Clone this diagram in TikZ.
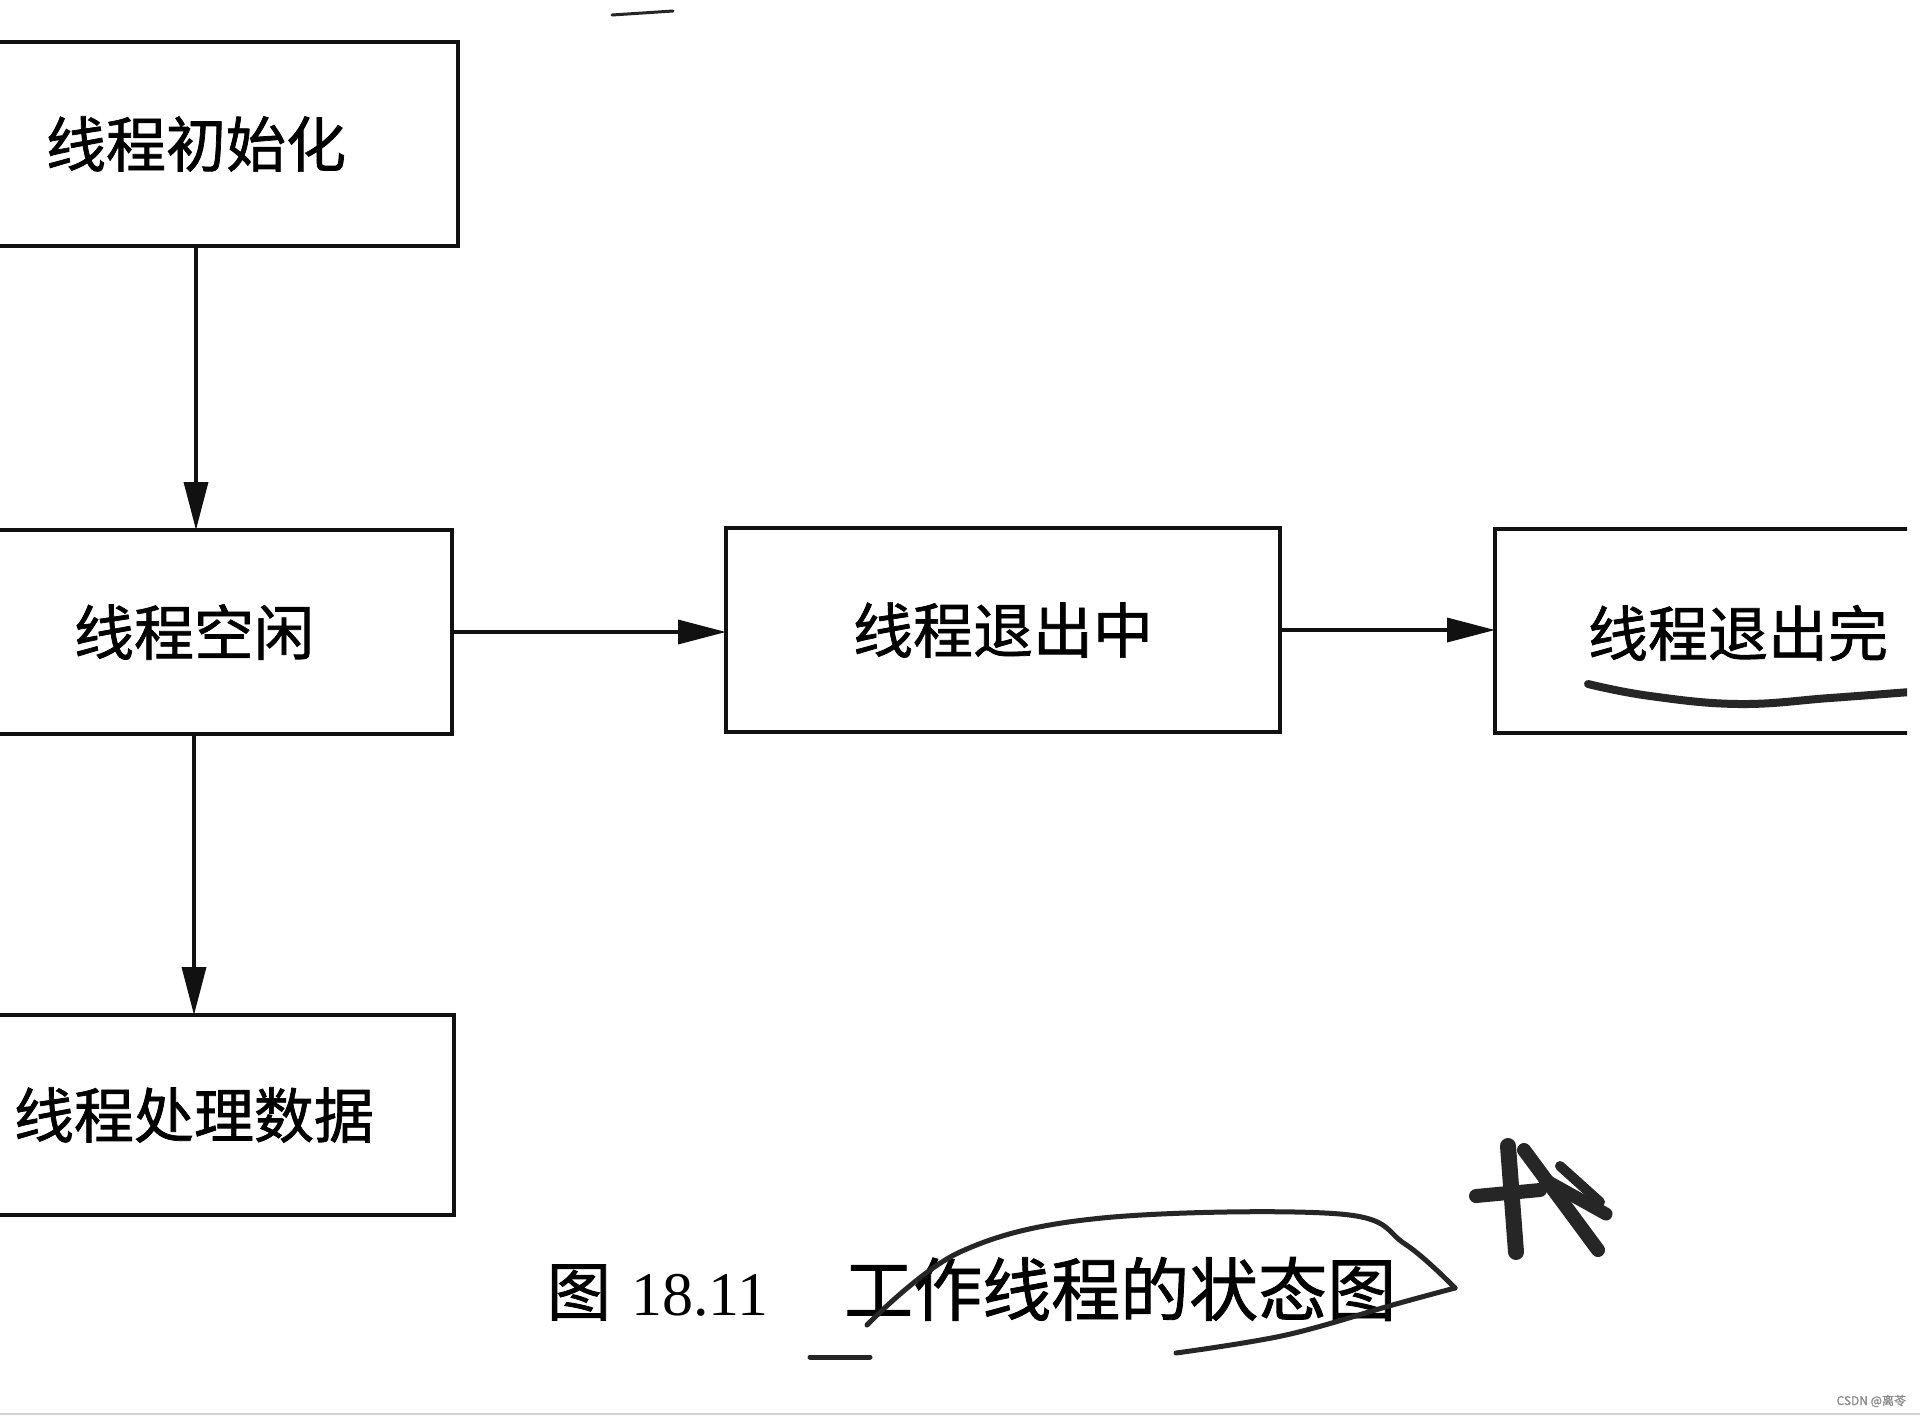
\documentclass[tikz,border=0pt]{standalone}
\usepackage{fontspec}
\usepackage{tikz}
\usetikzlibrary{arrows.meta, positioning, calc}
\newfontfamily\cjk{Noto Sans CJK SC}[FakeBold=1.2]
\newfontfamily\serifnum{Liberation Serif}
\definecolor{inkBlack}{HTML}{111111}
\definecolor{penGray}{HTML}{262626}
\definecolor{markGray}{HTML}{8C8C8C}
\definecolor{ruleGray}{HTML}{D4D4D4}

\begin{document}
\begin{tikzpicture}[
    x=1pt, y=-1pt,
    every node/.style={inner sep=0pt, outer sep=0pt},
    statebox/.style={
        draw=inkBlack, line width=4.5pt, minimum height=204pt,
        font=\fontsize{60}{64}\selectfont\cjk
    },
    flow/.style={draw=inkBlack, line width=3.5pt, -{Triangle[length=48pt, width=24pt]}},
    penmark/.style={draw=penGray, line width=5pt, line cap=round, line join=round}
]
    \useasboundingbox (0,0) rectangle (1920,1417);
    \fill[white] (0,0) rectangle (1920,1417);
    \clip (0,0) rectangle (1920,1417);

    % states
    \node[statebox, minimum width=524pt] (init) at (196,144) {线程初始化};
    \node[statebox, minimum width=516pt] (idle) at (194,632) {线程空闲};
    \node[statebox, minimum width=554pt] (exiting) at (1003,630) {线程退出中};
    \node[statebox, minimum width=520pt, minimum height=200pt] (work) at (194,1115) {线程处理数据};
    \begin{scope}
        \clip (0,0) rectangle (1907,1417);
        \node[statebox, minimum width=600pt, anchor=west] (exited) at (1495,631) {};
        \node[anchor=west, font=\fontsize{60}{64}\selectfont\cjk] (exitedtext) at (1588,633) {线程退出完};
        \draw[penmark, line width=8pt] plot[smooth, tension=0.7] coordinates {(1588,684) (1650,696) (1739,704) (1830,698) (1910,692)};
    \end{scope}

    % transitions
    \draw[flow] (init.south) -- (init.south |- idle.north);
    \draw[flow] (idle.south) -- (idle.south |- work.north);
    \draw[flow] (idle.east) -- (idle.east -| exiting.west);
    \draw[flow] (exiting.east) -- (exiting.east -| exited.west);

    % caption
    \node[anchor=west] (caption) at (547,1289)
        {\fontsize{64}{70}\selectfont\cjk 图\hspace{20pt}\fontsize{62}{70}\selectfont\serifnum 18.11\hspace{76pt}\fontsize{69}{70}\selectfont\cjk 工作线程的状态图};

    % pen marks on the page
    \draw[penmark] plot[smooth, tension=0.6] coordinates {(867,1325) (960,1252) (1102,1218) (1340,1214) (1405,1244) (1455,1288)};
    \draw[penmark] plot[smooth, tension=0.6] coordinates {(1455,1288) (1396,1304) (1286,1335) (1176,1353)};
    \draw[penmark, line width=5pt] (810,1357) -- (870,1357);
    \draw[penmark, line width=3pt] (612,15) -- (673,11);
    \draw[penmark, line width=16pt] (1508,1146) -- (1516,1252);
    \draw[penmark, line width=14pt] (1524,1150) -- (1598,1250);
    \draw[penmark, line width=14pt] (1476,1196) -- (1540,1190);
    \draw[penmark, line width=13pt] (1545,1180) -- (1606,1214);
    \draw[penmark, line width=10pt] (1560,1166) -- (1600,1202);

    % page footer
    \draw[ruleGray, line width=2pt] (0,1414) -- (1920,1414);
    \node[anchor=east, text=markGray, font=\fontsize{12}{14}\selectfont\cjk] (mark) at (1906,1401) {CSDN @离苓};
\end{tikzpicture}
\end{document}
